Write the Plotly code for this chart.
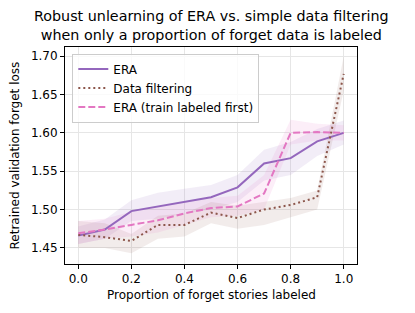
import plotly.graph_objects as go

x = [0.0, 0.1, 0.2, 0.3, 0.4, 0.5, 0.6, 0.7, 0.8, 0.9, 1.0]

era_mean = [1.466, 1.474, 1.498, 1.504, 1.510, 1.516, 1.529, 1.560, 1.567, 1.589, 1.600]
era_lo   = [1.455, 1.462, 1.485, 1.488, 1.495, 1.500, 1.510, 1.538, 1.545, 1.570, 1.585]
era_hi   = [1.478, 1.487, 1.512, 1.522, 1.527, 1.532, 1.545, 1.578, 1.588, 1.605, 1.616]

filt_mean = [1.467, 1.464, 1.459, 1.480, 1.480, 1.496, 1.489, 1.500, 1.506, 1.516, 1.677]
filt_lo   = [1.450, 1.450, 1.443, 1.462, 1.465, 1.482, 1.475, 1.480, 1.490, 1.500, 1.655]
filt_hi   = [1.485, 1.482, 1.468, 1.492, 1.495, 1.510, 1.505, 1.510, 1.515, 1.525, 1.700]

first_mean = [1.469, 1.474, 1.480, 1.486, 1.495, 1.502, 1.504, 1.521, 1.600, 1.601, 1.600]
first_lo   = [1.455, 1.462, 1.465, 1.470, 1.480, 1.490, 1.492, 1.500, 1.585, 1.590, 1.590]
first_hi   = [1.485, 1.488, 1.497, 1.503, 1.510, 1.515, 1.518, 1.545, 1.617, 1.612, 1.610]

names = ["ERA", "Data filtering", "ERA (train labeled first)"]
colors = ["#9467bd", "#8c564b", "#e377c2"]
fills = ["rgba(148,103,189,0.12)", "rgba(140,86,75,0.11)", "rgba(227,119,194,0.12)"]
dashes = ["solid", "2px,3px", "7px,3px"]

x_ticks = [0.0, 0.2, 0.4, 0.6, 0.8, 1.0]
y_ticks = [1.45, 1.50, 1.55, 1.60, 1.65, 1.70]

title_text = "Robust unlearning of ERA vs. simple data filtering<br>when only a proportion of forget data is labeled"
x_label = "Proportion of forget stories labeled"
y_label = "Retrained validation forget loss"

series = [(era_mean, era_lo, era_hi), (filt_mean, filt_lo, filt_hi), (first_mean, first_lo, first_hi)]

fig = go.Figure()
for (m, lo, hi), fc in zip(series, fills):
    fig.add_trace(go.Scatter(
        x=x + x[::-1], y=hi + lo[::-1], fill="toself", fillcolor=fc,
        line=dict(width=0), mode="lines", showlegend=False, hoverinfo="skip"))
for (m, lo, hi), n, c, d in zip(series, names, colors, dashes):
    fig.add_trace(go.Scatter(x=x, y=m, mode="lines", name=n,
                             line=dict(color=c, width=2, dash=d)))

axis_common = dict(showline=True, linecolor="black", linewidth=1, mirror=True,
                   ticks="outside", ticklen=4, tickcolor="black", automargin=False,
                   showgrid=True, gridcolor="#e6e6e6", gridwidth=1, zeroline=False,
                   tickfont=dict(size=12, color="black"))

OFF = 8              # page body margin of the browser
PW, PH = 292, 217    # plot area in px
L, T = 65 - OFF, 47 - OFF
W, H = 415 - OFF, 313 - OFF

fig.update_layout(
    width=W, height=H,
    margin=dict(l=L, r=W - L - PW, t=T, b=H - T - PH, autoexpand=False),
    paper_bgcolor="white", plot_bgcolor="white",
    font=dict(family="DejaVu Sans", size=12, color="black"),
    xaxis=dict(range=[-0.05, 1.05], tickvals=x_ticks, tickformat=".1f", **axis_common),
    yaxis=dict(range=[1.429, 1.712], tickvals=y_ticks, tickformat=".2f", **axis_common),
    legend=dict(x=0.025, y=0.97, xanchor="left", yanchor="top",
                bgcolor="rgba(255,255,255,0.8)", bordercolor="#cccccc", borderwidth=1,
                font=dict(size=12), tracegroupgap=0),
    annotations=[
        dict(text=title_text, xref="paper", yref="paper", x=(211 - 65) / PW, y=1 + (47 - 25) / PH,
             xanchor="center", yanchor="middle", showarrow=False, font=dict(size=14.3)),
        dict(text=x_label, xref="paper", yref="paper", x=0.5, y=-(295 - 264) / PH,
             xanchor="center", yanchor="middle", showarrow=False, font=dict(size=12)),
        dict(text=y_label, xref="paper", yref="paper", x=-(65 - 14) / PW, y=0.5, textangle=-90,
             xanchor="center", yanchor="middle", showarrow=False, font=dict(size=12)),
    ],
)

fig.write_html("out.html")
